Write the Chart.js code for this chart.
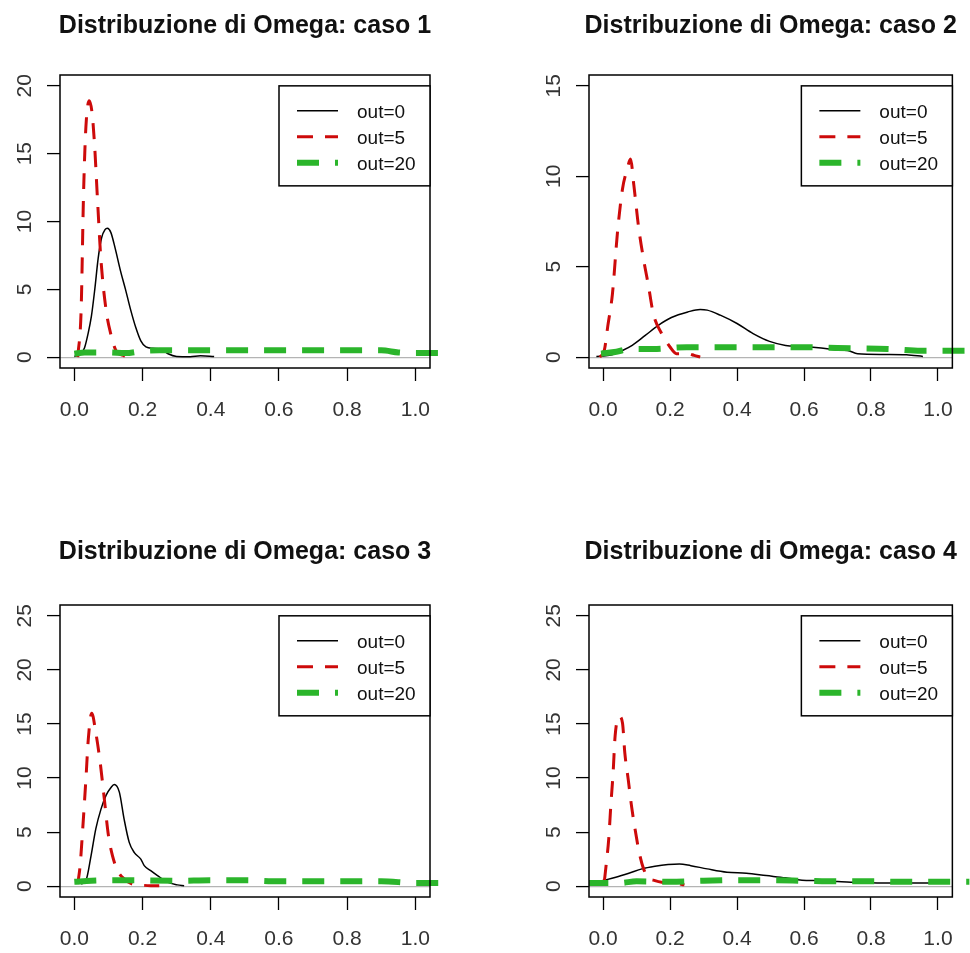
<!DOCTYPE html>
<html>
<head>
<meta charset="utf-8">
<title>Distribuzione di Omega</title>
<script src="https://cdn.jsdelivr.net/npm/chart.js@4/dist/chart.umd.min.js"></script>
<style>
  html, body { margin: 0; padding: 0; background: #fff; overflow: hidden; }
  body { width: 970px; height: 953px; position: relative; }
  canvas { position: absolute; }
</style>
</head>
<body>
<canvas id="c1" width="485" height="476" style="left:0;top:0"></canvas>
<canvas id="c2" width="441" height="476" style="left:529px;top:0"></canvas>
<canvas id="c3" width="485" height="423" style="left:0;top:530px"></canvas>
<canvas id="c4" width="441" height="423" style="left:529px;top:530px"></canvas>
<script>
// Data: [omega, density] pairs
const seriesLabels = ['out=0', 'out=5', 'out=20'];
const xTicks = [0, 0.2, 0.4, 0.6, 0.8, 1.0];
const xRange = [-0.042, 1.043];

const yTicks1 = [0, 5, 10, 15, 20];
const yTicks2 = [0, 5, 10, 15];
const yTicks34 = [0, 5, 10, 15, 20, 25];
const yRange1 = [-0.8, 20.8];
const yRange2 = [-0.6, 15.6];
const yRange34 = [-1, 26];

// caso 1
const c1Out0 = [[0.0,0.05],[0.02,0.3],[0.03,0.7],[0.04,1.7],[0.05,3.0],[0.06,5.0],[0.07,7.3],[0.08,8.8],[0.09,9.4],[0.097,9.5],[0.107,9.2],[0.12,8.0],[0.135,6.4],[0.15,5.0],[0.165,3.5],[0.18,2.2],[0.195,1.2],[0.21,0.75],[0.23,0.65],[0.255,0.6],[0.275,0.25],[0.3,0.05],[0.34,0.03],[0.37,0.1],[0.41,0.05]];
const c1Out5 = [[0.01,0.0],[0.02,3.5],[0.027,12],[0.034,17],[0.044,18.9],[0.052,18.0],[0.059,15.8],[0.068,11.6],[0.078,7.2],[0.093,3.5],[0.107,1.7],[0.122,0.5],[0.146,0.1],[0.165,0.0]];
const c1Out20 = [[0.0,0.25],[0.03,0.35],[0.1,0.35],[0.15,0.3],[0.2,0.45],[0.25,0.5],[0.35,0.5],[0.5,0.5],[0.7,0.5],[0.9,0.5],[0.95,0.35],[1.0,0.3],[1.1,0.3]];

// caso 2
const c2Out0 = [[-0.02,0.04],[0.019,0.1],[0.058,0.37],[0.087,0.65],[0.126,1.2],[0.165,1.76],[0.204,2.19],[0.253,2.5],[0.29,2.64],[0.311,2.6],[0.35,2.32],[0.4,1.86],[0.448,1.3],[0.497,0.87],[0.545,0.65],[0.594,0.6],[0.643,0.52],[0.692,0.41],[0.73,0.37],[0.76,0.19],[0.84,0.15],[0.906,0.13],[0.955,0.04]];
const c2Out5 = [[-0.01,0.0],[0.004,0.4],[0.014,1.7],[0.028,3.5],[0.043,6.9],[0.058,9.3],[0.072,10.4],[0.082,10.95],[0.092,9.5],[0.106,7.2],[0.121,5.4],[0.136,3.9],[0.15,2.4],[0.175,1.3],[0.2,0.56],[0.219,0.19],[0.253,0.19],[0.272,0.1],[0.29,0.0]];
const c2Out20 = [[-0.006,0.19],[0.04,0.3],[0.08,0.45],[0.15,0.45],[0.25,0.55],[0.4,0.55],[0.6,0.55],[0.7,0.5],[0.85,0.45],[0.95,0.35],[1.1,0.35]];

// caso 3
const c3Out0 = [[0.02,0.2],[0.034,0.5],[0.049,2.8],[0.063,5.3],[0.078,7.1],[0.093,8.4],[0.107,9.1],[0.117,9.4],[0.132,8.7],[0.146,6.2],[0.161,4.05],[0.176,3.1],[0.195,2.5],[0.205,1.9],[0.224,1.44],[0.244,0.98],[0.273,0.37],[0.302,0.12],[0.322,0.05]];
const c3Out5 = [[0.01,0.2],[0.017,1.9],[0.024,5.0],[0.034,9.9],[0.041,13.6],[0.051,16.0],[0.063,14.2],[0.076,11.4],[0.088,8.05],[0.1,4.7],[0.112,2.8],[0.127,1.44],[0.146,0.68],[0.17,0.2],[0.195,0.1],[0.224,0.05],[0.249,0.05]];
const c3Out20 = [[0.0,0.4],[0.05,0.5],[0.15,0.55],[0.3,0.5],[0.4,0.55],[0.5,0.55],[0.6,0.45],[0.8,0.45],[0.9,0.45],[1.0,0.3],[1.1,0.3]];

// caso 4
const c4Out0 = [[-0.04,0.2],[0.0,0.52],[0.038,0.83],[0.077,1.2],[0.116,1.6],[0.155,1.84],[0.194,2.0],[0.228,2.06],[0.262,1.9],[0.311,1.6],[0.37,1.29],[0.428,1.2],[0.487,0.98],[0.545,0.77],[0.594,0.55],[0.643,0.52],[0.7,0.43],[0.74,0.37],[0.838,0.3],[0.936,0.3],[1.033,0.3]];
const c4Out5 = [[0.004,0.5],[0.009,1.9],[0.017,4.4],[0.023,7.4],[0.03,10.5],[0.036,13.9],[0.048,15.7],[0.058,15.1],[0.065,12.3],[0.075,9.9],[0.085,7.4],[0.097,5.0],[0.108,3.1],[0.121,1.6],[0.136,0.77],[0.155,0.52],[0.175,0.37],[0.214,0.3],[0.243,0.12]];
const c4Out20 = [[-0.05,0.3],[0.05,0.3],[0.1,0.45],[0.2,0.4],[0.3,0.5],[0.4,0.55],[0.5,0.55],[0.6,0.5],[0.7,0.45],[0.8,0.45],[0.9,0.4],[1.0,0.4],[1.1,0.4]];

const FONT = '"Liberation Sans", Arial, sans-serif';
Chart.defaults.font.family = FONT;
Chart.defaults.animation = false;

// box, title and R-style legend
const rBase = {
  id: 'rBase',
  afterDraw(chart, args, opts) {
    const { ctx, chartArea: a } = chart;
    ctx.save();
    ctx.strokeStyle = '#000';
    ctx.lineWidth = 1.5;
    ctx.strokeRect(a.left, a.top, a.right - a.left, a.bottom - a.top);

    ctx.fillStyle = '#111';
    ctx.font = 'bold 25px ' + FONT;
    ctx.textAlign = 'center';
    ctx.textBaseline = 'alphabetic';
    ctx.fillText(opts.title, (a.left + a.right) / 2, a.top - opts.titleGap);

    const y0 = chart.scales.y.getPixelForValue(opts.legendAt);
    const w = 151, h = 100, x0 = a.right - w;
    ctx.fillStyle = '#fff';
    ctx.fillRect(x0, y0, w, h);
    ctx.lineWidth = 1.5;
    ctx.strokeRect(x0, y0, w, h);
    chart.data.datasets.forEach((ds, i) => {
      const yy = y0 + 25 + i * 26;
      ctx.beginPath();
      ctx.setLineDash(ds.borderDash || []);
      ctx.lineWidth = ds.borderWidth;
      ctx.strokeStyle = ds.borderColor;
      ctx.moveTo(x0 + 18, yy);
      ctx.lineTo(x0 + 59, yy);
      ctx.stroke();
      ctx.setLineDash([]);
      ctx.fillStyle = '#111';
      ctx.font = '19px ' + FONT;
      ctx.textAlign = 'left';
      ctx.textBaseline = 'middle';
      ctx.fillText(ds.label, x0 + 78, yy + 2);
    });
    ctx.restore();
  }
};

function makeSeries(out0, out5, out20) {
  const pts = arr => arr.map(p => ({ x: p[0], y: p[1] }));
  return [
    { label: seriesLabels[0], data: pts(out0), borderColor: '#000', borderWidth: 1.5, order: 2 },
    { label: seriesLabels[1], data: pts(out5), borderColor: '#cd0a0a', borderWidth: 3, borderDash: [16, 12], order: 1 },
    { label: seriesLabels[2], data: pts(out20), borderColor: '#2bb52b', borderWidth: 6, borderDash: [22, 16], order: 0,
      clip: { left: 0, top: 0, right: 17, bottom: 0 } }
  ];
}

function makePanel(id, title, datasets, yRange, yTicks, padRight, padBottom, titleGap) {
  new Chart(document.getElementById(id), {
    type: 'line',
    data: { datasets: datasets },
    options: {
      responsive: false,
      devicePixelRatio: 1,
      parsing: true,
      events: [],
      layout: { padding: { left: 0, top: 75, right: padRight, bottom: padBottom } },
      elements: {
        point: { radius: 0 },
        line: { cubicInterpolationMode: 'monotone', fill: false }
      },
      scales: {
        x: {
          type: 'linear',
          min: xRange[0],
          max: xRange[1],
          afterBuildTicks: s => { s.ticks = xTicks.map(v => ({ value: v })); },
          afterFit: s => { s.height = 50; },
          border: { display: false },
          grid: { color: 'rgba(0,0,0,0)', drawOnChartArea: false, tickColor: '#000', tickLength: 13, tickWidth: 1.3 },
          ticks: { color: '#333', font: { size: 21 }, padding: 17, maxRotation: 0, autoSkip: false,
            callback: v => Number(v).toFixed(1) }
        },
        y: {
          type: 'linear',
          min: yRange[0],
          max: yRange[1],
          afterBuildTicks: s => { s.ticks = yTicks.map(v => ({ value: v })); },
          afterFit: s => { s.width = 60; },
          border: { display: false },
          grid: {
            color: c => (c.tick && c.tick.value === 0) ? '#b4b4b4' : 'rgba(0,0,0,0)',
            lineWidth: 1.2,
            tickColor: '#000', tickLength: 13, tickWidth: 1.3
          },
          ticks: { color: '#333', font: { size: 21 }, padding: 10, minRotation: 90, maxRotation: 90,
            crossAlign: 'center', autoSkip: false, callback: v => String(v) }
        }
      },
      plugins: {
        legend: { display: false },
        tooltip: { enabled: false },
        rBase: { title: title, titleGap: titleGap, legendAt: yTicks[yTicks.length - 1] }
      }
    },
    plugins: [rBase]
  });
}

makePanel('c1', 'Distribuzione di Omega: caso 1', makeSeries(c1Out0, c1Out5, c1Out20), yRange1, yTicks1, 55, 58, 42);
makePanel('c2', 'Distribuzione di Omega: caso 2', makeSeries(c2Out0, c2Out5, c2Out20), yRange2, yTicks2, 11, 58, 42);
makePanel('c3', 'Distribuzione di Omega: caso 3', makeSeries(c3Out0, c3Out5, c3Out20), yRange34, yTicks34, 55, 6, 46);
makePanel('c4', 'Distribuzione di Omega: caso 4', makeSeries(c4Out0, c4Out5, c4Out20), yRange34, yTicks34, 11, 6, 46);
</script>
</body>
</html>
